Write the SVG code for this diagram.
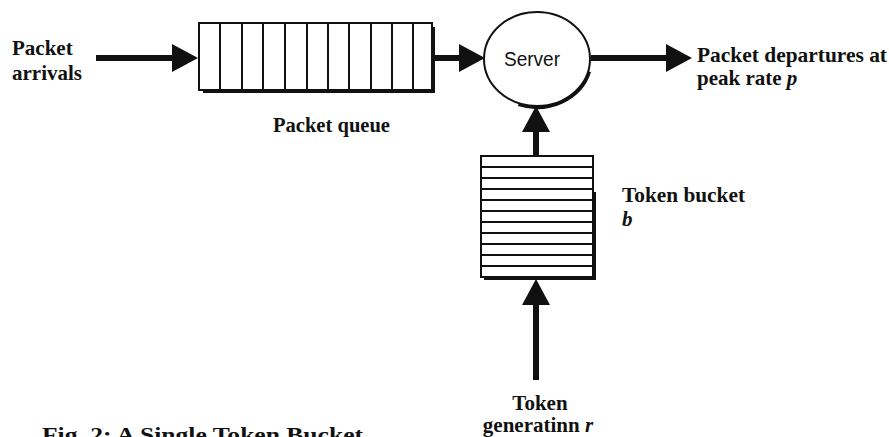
<svg xmlns="http://www.w3.org/2000/svg" width="889" height="437" viewBox="0 0 889 437">
<style>
.lbl{font-family:"Liberation Serif","Times New Roman",serif;font-weight:bold;font-size:21px;fill:#111}
.it{font-style:italic}
.box{fill:#fff;stroke:#111;stroke-width:2}
.shadow{fill:none;stroke:#111;stroke-width:3}
.div{stroke:#111;stroke-width:2}
.conn{fill:none;stroke:#111;stroke-width:6}
</style>
<defs>
<marker id="ah" markerUnits="userSpaceOnUse" markerWidth="28" markerHeight="30" refX="0" refY="14" orient="auto" overflow="visible">
<path d="M0,0 L26,14 L0,28 z" fill="#111"/>
</marker>
</defs>
<rect width="889" height="437" fill="#fff"/>

<g id="arrivals-label">
<text class="lbl" x="12" y="55">Packet</text>
<text class="lbl" x="12" y="80">arrivals</text>
</g>

<g id="queue">
<rect class="box" x="199" y="23" width="233" height="67"/>
<path class="shadow" d="M203,91.5 H433.5 V27"/>
<path class="div" d="M220,23V90 M242,23V90 M263,23V90 M285,23V90 M307,23V90 M328,23V90 M349,23V90 M371,23V90 M392,23V90 M413,23V90"/>
<text class="lbl" x="273" y="132" textLength="117" lengthAdjust="spacingAndGlyphs">Packet queue</text>
</g>

<g id="server">
<ellipse class="box" cx="537" cy="59" rx="53" ry="47"/>
<path class="shadow" stroke-width="4" d="M589.6,71.6 A54.5,48.5 0 0 1 518.4,104.6"/>
<text x="532" y="66" text-anchor="middle" font-family="Liberation Sans, Arial, sans-serif" font-size="21" textLength="56" lengthAdjust="spacingAndGlyphs" fill="#111">Server</text>
</g>

<g id="departures-label">
<text class="lbl" x="697" y="62" textLength="190" lengthAdjust="spacingAndGlyphs">Packet departures at</text>
<text class="lbl" x="697" y="85">peak rate <tspan class="it">p</tspan></text>
</g>

<g id="bucket">
<rect class="box" x="481" y="156" width="112" height="121"/>
<path class="shadow" d="M484,278.5 H594.5 V192"/>
<path class="div" d="M481,167H593 M481,178H593 M481,189H593 M481,200H593 M481,211H593 M481,222H593 M481,233H593 M481,244H593 M481,255H593 M481,266H593"/>
<text class="lbl" x="622" y="202" textLength="123" lengthAdjust="spacingAndGlyphs">Token bucket</text>
<text class="lbl it" x="622" y="226">b</text>
</g>

<g id="token-gen">
<text class="lbl" x="540" y="410" text-anchor="middle">Token</text>
<text class="lbl" x="538" y="432" text-anchor="middle">generatinn <tspan class="it">r</tspan></text>
</g>

<g id="caption">
<text class="lbl" x="42" y="442" font-size="23" textLength="321" lengthAdjust="spacingAndGlyphs">Fig. 2: A Single Token Bucket</text>
</g>

<g id="connectors">
<path class="conn" d="M96,58 H172" marker-end="url(#ah)"/>
<path class="conn" d="M432,58 H459" marker-end="url(#ah)"/>
<path class="conn" d="M591,58 H666" marker-end="url(#ah)"/>
<path class="conn" d="M536,156 V132" marker-end="url(#ah)"/>
<path class="conn" d="M536,380 V305" marker-end="url(#ah)"/>
</g>
</svg>
